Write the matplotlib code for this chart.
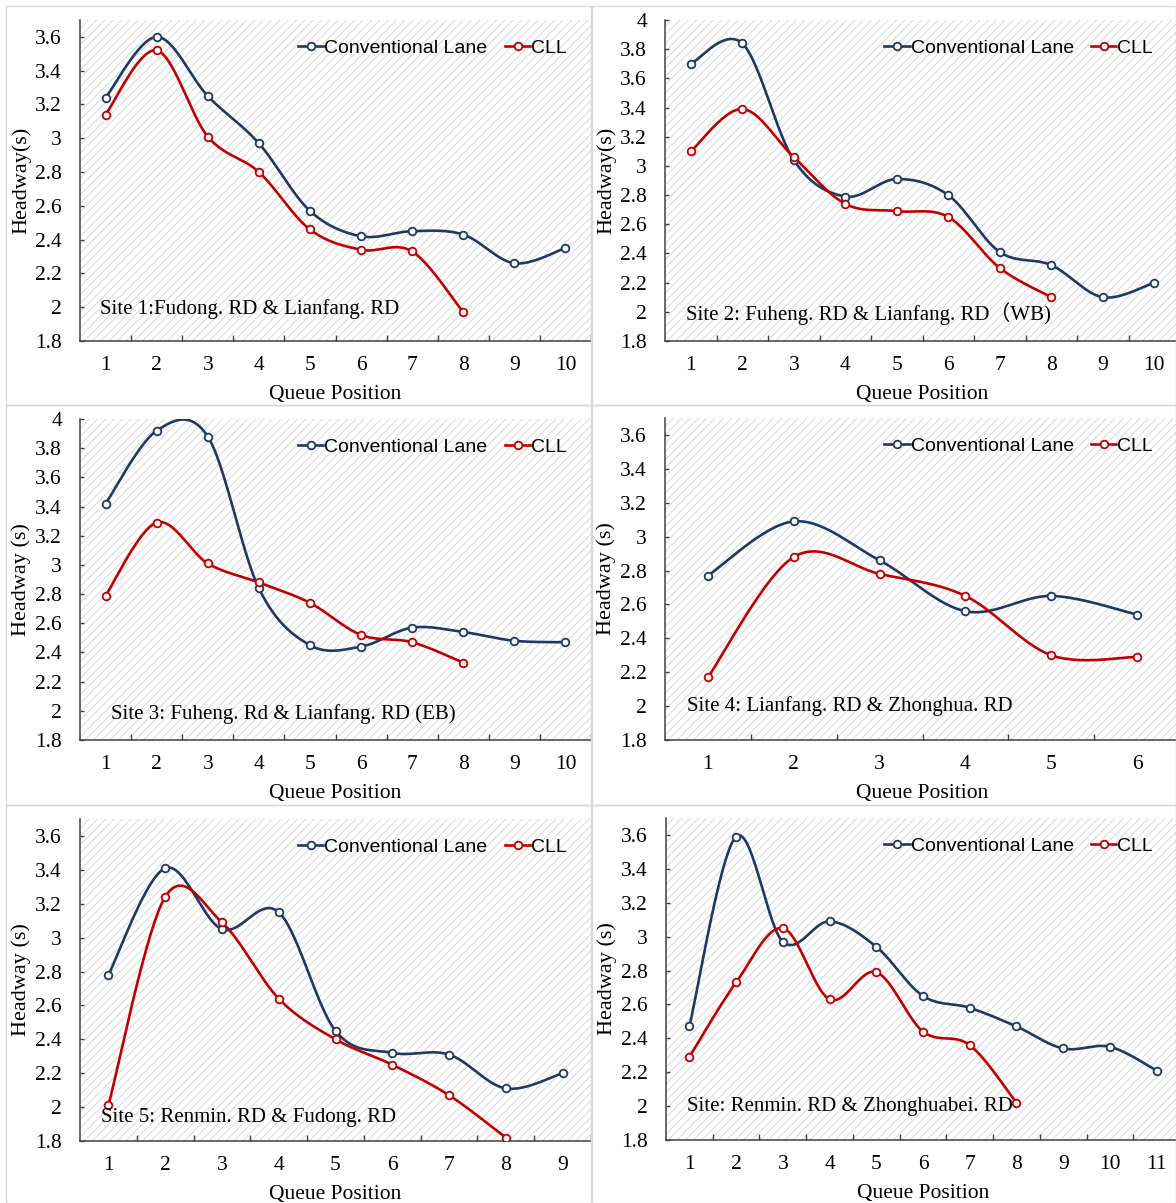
import numpy as np
import matplotlib
matplotlib.use("Agg")
import matplotlib.pyplot as plt
from matplotlib.patches import Rectangle
from matplotlib.lines import Line2D

# ---------------- data ----------------
site_labels = [
    "Site 1:Fudong. RD & Lianfang. RD",
    "Site 2: Fuheng. RD & Lianfang. RD\uff08WB)",
    "Site 3: Fuheng. Rd & Lianfang. RD (EB)",
    "Site 4: Lianfang. RD & Zhonghua. RD",
    "Site 5: Renmin. RD & Fudong. RD",
    "Site: Renmin. RD & Zhonghuabei. RD",
]
ylabels = ["Headway(s)", "Headway(s)", "Headway (s)", "Headway (s)", "Headway (s)", "Headway (s)"]
xlabel = "Queue Position"
series_names = ["Conventional Lane", "CLL"]

conv1 = [3.24, 3.60, 3.25, 2.97, 2.57, 2.42, 2.45, 2.43, 2.26, 2.35]
cll1 = [3.14, 3.52, 3.01, 2.80, 2.46, 2.34, 2.33, 1.97]
conv2 = [3.70, 3.84, 3.04, 2.79, 2.91, 2.80, 2.41, 2.32, 2.10, 2.20]
cll2 = [3.10, 3.39, 3.06, 2.74, 2.69, 2.65, 2.30, 2.10]
conv3 = [3.42, 3.92, 3.88, 2.84, 2.45, 2.44, 2.57, 2.54, 2.48, 2.47]
cll3 = [2.79, 3.29, 3.01, 2.88, 2.74, 2.52, 2.47, 2.33]
conv4 = [2.77, 3.09, 2.86, 2.56, 2.65, 2.54]
cll4 = [2.17, 2.88, 2.78, 2.65, 2.30, 2.29]
conv5 = [2.78, 3.41, 3.05, 3.15, 2.45, 2.32, 2.31, 2.11, 2.20]
cll5 = [2.01, 3.24, 3.09, 2.64, 2.40, 2.25, 2.07, 1.82]
conv6 = [2.47, 3.59, 2.97, 3.09, 2.94, 2.65, 2.58, 2.47, 2.34, 2.35, 2.21]
cll6 = [2.29, 2.73, 3.05, 2.63, 2.79, 2.44, 2.36, 2.02]

conv_all = [conv1, conv2, conv3, conv4, conv5, conv6]
cll_all = [cll1, cll2, cll3, cll4, cll5, cll6]
n_cats = [10, 10, 10, 6, 9, 11]
ytops = [3.7, 4.0, 4.0, 3.7, 3.7, 3.7]
ybottom = 1.8

# ---------------- styling ----------------
W, H = 1176, 1203
DPI = 100
BLUE = "#203864"
RED = "#C00000"
SERIF = ["Liberation Serif", "DejaVu Serif"]
SERIF_CJK = ["Liberation Serif", "Noto Sans CJK SC", "DejaVu Serif"]
LEG = ["Liberation Sans Narrow", "Liberation Sans", "DejaVu Sans"]

plt.rcParams["hatch.linewidth"] = 0.7
plt.rcParams["hatch.color"] = "#d8d8d8"

fig = plt.figure(figsize=(W / DPI, H / DPI), dpi=DPI)
fig.patch.set_facecolor("white")

# panel frames (pixels: left, top, right, bottom)
frames = [(6, 6, 591, 405), (592, 6, 1176, 405),
          (6, 405, 591, 805), (592, 405, 1176, 805),
          (6, 805, 591, 1203), (592, 805, 1176, 1203)]
for (l, t, r, b) in frames:
    fig.add_artist(Rectangle((l / W, 1 - b / H), (r - l) / W, (b - t) / H,
                             transform=fig.transFigure, fill=False,
                             edgecolor="#d9d9d9", linewidth=1.0))

# axes boxes (pixels: left, top, right, bottom)
boxes = [(80, 20, 591, 341), (665, 20, 1180, 341),
         (80, 419, 591, 740), (665, 418, 1180, 740),
         (80, 819, 591, 1141), (666, 818, 1180, 1140)]
text_y = [1.99, 1.99, 1.98, 2.0, 1.94, 2.0]
text_x = [0.04, 0.04, 0.06, 0.042, 0.042, 0.04]


def smooth(y, steps=30):
    """Excel-like smoothed line (Catmull-Rom cubic Bezier) through points."""
    y = np.asarray(y, dtype=float)
    x = np.arange(1, len(y) + 1, dtype=float)
    P = np.column_stack([x, y])
    out = []
    n = len(P)
    for i in range(n - 1):
        p0 = P[i - 1] if i > 0 else P[i]
        p1 = P[i]
        p2 = P[i + 1]
        p3 = P[i + 2] if i + 2 < n else P[i + 1]
        c1 = p1 + (p2 - p0) / 6.0
        c2 = p2 - (p3 - p1) / 6.0
        t = np.linspace(0, 1, steps)[:, None]
        seg = ((1 - t) ** 3) * p1 + 3 * ((1 - t) ** 2) * t * c1 + 3 * (1 - t) * t ** 2 * c2 + t ** 3 * p2
        out.append(seg if i == 0 else seg[1:])
    pts = np.vstack(out)
    return pts[:, 0], pts[:, 1]


for k in range(6):
    l, t, r, b = boxes[k]
    ax = fig.add_axes([l / W, 1 - b / H, (r - l) / W, (b - t) / H])
    ax.set_facecolor("white")
    ax.add_patch(Rectangle((0, 0), 1, 1, transform=ax.transAxes, facecolor="white",
                           hatch="////", edgecolor="#d8d8d8", linewidth=0, zorder=0))
    n = n_cats[k]
    for data, col in ((conv_all[k], BLUE), (cll_all[k], RED)):
        sx, sy = smooth(data)
        ax.plot(sx, sy, color=col, lw=1.9, zorder=3, solid_capstyle="round")
        ax.plot(np.arange(1, len(data) + 1), data, ls="none", marker="o", ms=5.5,
                mfc="white", mec=col, mew=1.3, zorder=4)
    ax.set_xlim(0.5, n + 0.5)
    ax.set_ylim(ybottom, ytops[k])
    yt = np.round(np.arange(1.8, ytops[k] + 0.001, 0.2), 1)
    ax.set_yticks(yt)
    ax.set_yticklabels([("%g" % v) for v in yt])
    ax.set_xticks(np.arange(1, n + 1))
    ax.set_xticks(np.arange(1.5, n + 0.6, 1.0), minor=True)
    ax.tick_params(axis="x", which="major", length=0, pad=11)
    ax.tick_params(axis="x", which="minor", length=4, direction="in", width=1.0, color="#404040")
    ax.tick_params(axis="y", which="major", length=3, direction="in", pad=13, width=1.0, color="#404040")
    for lab in ax.get_xticklabels() + ax.get_yticklabels():
        lab.set_fontfamily(SERIF)
        lab.set_fontsize(15.5)
    for s in ("top", "right"):
        ax.spines[s].set_visible(False)
    for s in ("left", "bottom"):
        ax.spines[s].set_color("#404040")
        ax.spines[s].set_linewidth(1.1)
    ax.set_ylabel(ylabels[k], fontfamily=SERIF, fontsize=16, labelpad=3)
    ax.set_xlabel(xlabel, fontfamily=SERIF, fontsize=15.5, labelpad=7)
    ax.text(text_x[k], text_y[k], site_labels[k], transform=ax.get_yaxis_transform(),
            ha="left", va="center", fontsize=15, family=SERIF_CJK, zorder=5)
    handles = [Line2D([], [], color=BLUE, lw=1.9, marker="o", ms=5.5, mfc="white", mec=BLUE, mew=1.3),
               Line2D([], [], color=RED, lw=1.9, marker="o", ms=5.5, mfc="white", mec=RED, mew=1.3)]
    leg = ax.legend(handles, series_names, ncol=2, loc="center right",
                    bbox_to_anchor=(0.968 if k % 2 == 0 else 0.963, 0.912),
                    frameon=False, handlelength=1.3, handletextpad=0.05,
                    columnspacing=0.9, borderaxespad=0,
                    prop={"family": LEG, "size": 14})

fig.savefig("out.png", dpi=DPI, facecolor="white")
